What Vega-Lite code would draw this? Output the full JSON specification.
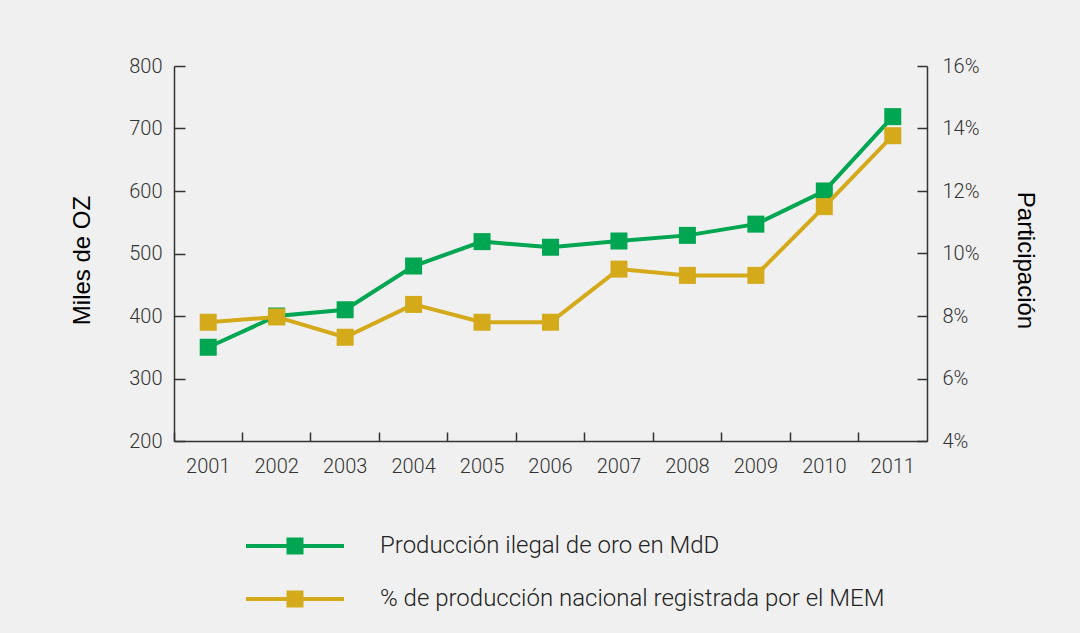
{
  "$schema": "https://vega.github.io/schema/vega-lite/v6.json",
  "width": 753,
  "height": 375,
  "autosize": "none",
  "padding": {"left": 174, "top": 66, "right": 153, "bottom": 192},
  "background": "#f0f0f0",
  "config": {
    "view": {"stroke": null},
    "font": "Roboto",
    "axis": {
      "grid": false,
      "domainColor": "#333333",
      "domainWidth": 1.5,
      "tickColor": "#333333",
      "tickWidth": 1.5,
      "labelFont": "Roboto",
      "labelFontWeight": 300,
      "labelFontSize": 20,
      "labelColor": "#333333",
      "titleFont": "Liberation Sans",
      "titleFontWeight": "normal",
      "titleFontSize": 24,
      "titleColor": "#000000"
    }
  },
  "data": {
    "values": [
      {"year": "2001", "oro": 350, "pct": 0.078},
      {"year": "2002", "oro": 400, "pct": 0.0797},
      {"year": "2003", "oro": 410, "pct": 0.0732},
      {"year": "2004", "oro": 480, "pct": 0.0837},
      {"year": "2005", "oro": 519, "pct": 0.078},
      {"year": "2006", "oro": 510, "pct": 0.078},
      {"year": "2007", "oro": 520, "pct": 0.095},
      {"year": "2008", "oro": 529, "pct": 0.093},
      {"year": "2009", "oro": 547, "pct": 0.093},
      {"year": "2010", "oro": 600, "pct": 0.115},
      {"year": "2011", "oro": 719, "pct": 0.1377}
    ]
  },
  "encoding": {
    "x": {
      "field": "year",
      "type": "ordinal",
      "scale": {"type": "band", "paddingInner": 0, "paddingOuter": 0},
      "axis": {
        "title": null,
        "labelAngle": 0,
        "bandPosition": 0,
        "tickSize": -9,
        "labelPadding": 24
      }
    }
  },
  "layer": [
    {
      "mark": {
        "type": "line",
        "strokeWidth": 4,
        "point": {"shape": "square", "size": 289, "filled": true, "opacity": 1}
      },
      "encoding": {
        "y": {
          "field": "oro",
          "type": "quantitative",
          "scale": {"domain": [200, 800], "nice": false, "zero": false},
          "axis": {
            "title": "Miles de OZ",
            "values": [200, 300, 400, 500, 600, 700, 800],
            "tickSize": -11,
            "labelPadding": 23,
            "titlePadding": 34,
            "titleY": 194
          }
        },
        "color": {
          "datum": "Producción ilegal de oro en MdD",
          "type": "nominal",
          "scale": {
            "domain": ["Producción ilegal de oro en MdD", "% de producción nacional registrada por el MEM"],
            "range": ["#00a651", "#d4aa1b"]
          },
          "legend": {
            "title": null,
            "orient": "none",
            "legendX": 109,
            "legendY": 468,
            "direction": "vertical",
            "symbolType": "M-4.9,0H4.9M-0.65,-0.65H0.65V0.65H-0.65Z",
            "symbolSize": 400,
            "symbolStrokeWidth": 4,
            "symbolOpacity": 1,
            "labelFont": "Roboto",
            "labelFontWeight": 300,
            "labelFontSize": 24,
            "labelColor": "#222222",
            "labelOffset": 73,
            "rowPadding": 23,
            "labelLimit": 0,
            "encode": {
              "symbols": {
                "update": {
                  "fill": {"scale": "color", "field": "value"},
                  "stroke": {"scale": "color", "field": "value"},
                  "strokeWidth": {"value": 4},
                  "opacity": {"value": 1}
                }
              }
            }
          }
        }
      }
    },
    {
      "mark": {
        "type": "line",
        "strokeWidth": 4,
        "point": {"shape": "square", "size": 289, "filled": true, "opacity": 1}
      },
      "encoding": {
        "y": {
          "field": "pct",
          "type": "quantitative",
          "scale": {"domain": [0.04, 0.16], "nice": false, "zero": false},
          "axis": {
            "orient": "right",
            "title": "Participación",
            "format": ".0%",
            "values": [0.04, 0.06, 0.08, 0.1, 0.12, 0.14, 0.16],
            "tickSize": -10,
            "labelPadding": 25,
            "titlePadding": 34,
            "titleY": 194
          }
        },
        "color": {
          "datum": "% de producción nacional registrada por el MEM",
          "type": "nominal"
        }
      }
    }
  ],
  "resolve": {"scale": {"y": "independent"}}
}
